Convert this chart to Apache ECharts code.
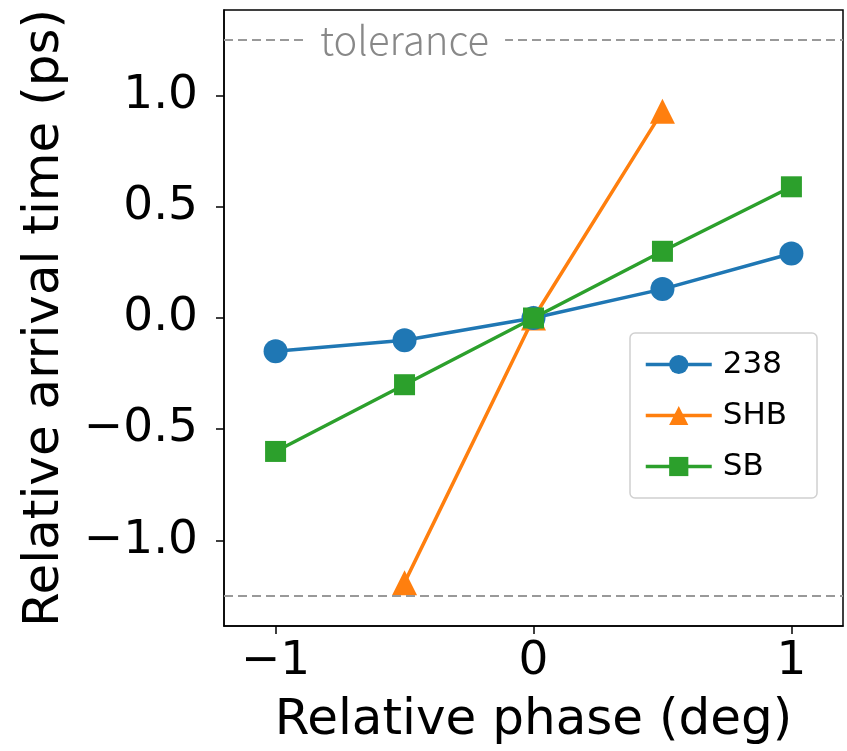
<!DOCTYPE html>
<html>
<head>
  <meta charset="utf-8">
  <title>ECharts</title>
  <script src="https://cdn.jsdelivr.net/npm/echarts@6/dist/echarts.min.js"></script>
</head>
<body style="margin:0">
  <div id="main" style="width: 847px;height:751px;"></div>
  <script type="text/javascript">
    // data
    var phase = [-1, -0.5, 0, 0.5, 1];
    var t238 = [-0.15, -0.1, 0, 0.13, 0.29];
    var phaseSHB = [-0.5, 0, 0.5];
    var tSHB = [-1.19, 0, 0.93];
    var tSB = [-0.6, -0.3, 0, 0.3, 0.59];
    var tolerance = 1.25;
    var xTicks = [-1, 0, 1];
    var yTicks = [-1, -0.5, 0, 0.5, 1];

    function pairs(xs, ys) {
      return xs.map(function (x, i) { return [x, ys[i]]; });
    }
    function minus(s) { return String(s).replace('-', '\u2212'); }

    var myChart = echarts.init(document.getElementById('main'));
    var font = 'DejaVu Sans';

    var option = {
      animation: false,
      grid: {
        left: 224, right: 4, top: 10, bottom: 124,
        show: true, borderColor: '#000', borderWidth: 1.5, backgroundColor: 'transparent'
      },
      legend: {
        orient: 'vertical',
        left: 630, top: 333,
        padding: [16, 30, 16, 14],
        itemGap: 20,
        itemWidth: 66, itemHeight: 24,
        borderColor: '#d0d0d0', borderWidth: 1.5, borderRadius: 5,
        lineStyle: { width: 3.5 },
        textStyle: { fontFamily: font, fontSize: 31, color: '#000', padding: [0, 0, 0, 6] },
        data: ['238', 'SHB', 'SB']
      },
      xAxis: {
        type: 'value', min: -1.2, max: 1.2,
        name: 'Relative phase (deg)', nameLocation: 'middle', nameGap: 70,
        nameTextStyle: { fontFamily: font, fontSize: 50, color: '#000' },
        axisLine: { show: true, onZero: false, lineStyle: { color: '#000', width: 1.5 } },
        axisTick: { show: true, length: 8, customValues: xTicks, lineStyle: { color: '#000', width: 1.5 } },
        axisLabel: { customValues: xTicks, fontFamily: font, fontSize: 47, color: '#000', margin: 12,
          formatter: function (v) { return minus(v); } },
        splitLine: { show: false }
      },
      yAxis: {
        type: 'value', min: -1.385, max: 1.385,
        name: 'Relative arrival time (ps)', nameLocation: 'middle', nameGap: 154, nameRotate: 90,
        nameTextStyle: { fontFamily: font, fontSize: 50, color: '#000' },
        axisLine: { show: true, onZero: false, lineStyle: { color: '#000', width: 1.5 } },
        axisTick: { show: true, length: 8, customValues: yTicks, lineStyle: { color: '#000', width: 1.5 } },
        axisLabel: { customValues: yTicks, fontFamily: font, fontSize: 47, color: '#000', margin: 26,
          formatter: function (v) { return minus(v.toFixed(1)); } },
        splitLine: { show: false }
      },
      series: [
        {
          name: '238', type: 'line', data: pairs(phase, t238),
          color: '#1f77b4', symbol: 'circle', symbolSize: 24,
          lineStyle: { width: 3.5 }, z: 3,
          markLine: {
            silent: true, symbol: 'none',
            lineStyle: { color: '#999', type: [9, 5], width: 2 },
            label: { show: false },
            data: [{ yAxis: tolerance }, { yAxis: -tolerance }]
          },
          markPoint: {
            silent: true, symbol: 'rect', symbolSize: 0,
            label: {
              show: true, position: 'inside', formatter: 'tolerance',
              fontFamily: 'Noto Sans CJK JP', fontWeight: 300, fontSize: 40, color: '#888',
              backgroundColor: '#fff', padding: [0, 16, 0, 16]
            },
            data: [{ coord: [-0.5, tolerance] }]
          }
        },
        {
          name: 'SHB', type: 'line', data: pairs(phaseSHB, tSHB),
          color: '#ff7f0e', symbol: 'triangle', symbolSize: 25,
          lineStyle: { width: 3.5 }, z: 2
        },
        {
          name: 'SB', type: 'line', data: pairs(phase, tSB),
          color: '#2ca02c', symbol: 'rect', symbolSize: 21,
          lineStyle: { width: 3.5 }, z: 4
        }
      ]
    };

    myChart.setOption(option);
  </script>
</body>
</html>
